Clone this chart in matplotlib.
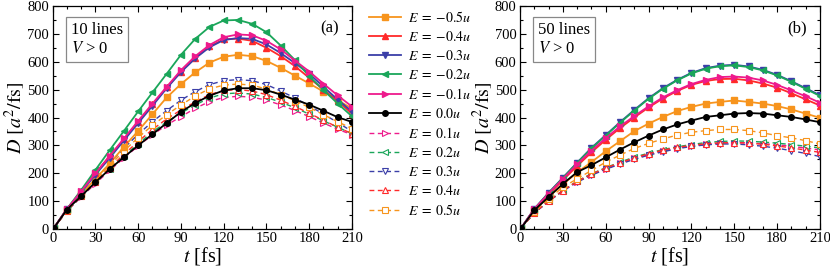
import matplotlib
matplotlib.use("Agg")
import matplotlib.pyplot as plt
import numpy as np
from matplotlib.ticker import MultipleLocator

plt.rcParams['font.family'] = ['Liberation Serif', 'DejaVu Serif']
plt.rcParams['mathtext.fontset'] = 'stix'

t = [1, 10, 20, 30, 40, 50, 60, 70, 80, 90, 100, 110, 120, 130, 140, 150, 160, 170, 180, 190, 200, 210]

energies = [-0.5, -0.4, -0.3, -0.2, -0.1, 0.0, 0.1, 0.2, 0.3, 0.4, 0.5]
colors = ['#f7941d', '#ff2a2a', '#3b3fa8', '#1aa65a', '#ee1a8c', '#000000',
          '#ee1a8c', '#1aa65a', '#3b3fa8', '#ff2a2a', '#f7941d']
markers = ['s', '^', 'v', '<', '>', 'o', '>', '<', 'v', '^', 's']

# panel (a): 10 lines
a_m05 = [5, 70, 125, 180, 235, 295, 352, 412, 472, 520, 562, 597, 618, 625, 620, 603, 578, 550, 522, 493, 462, 432]
a_m04 = [5, 72, 135, 200, 262, 322, 385, 447, 508, 565, 615, 655, 680, 683, 675, 650, 620, 584, 542, 500, 458, 414]
a_m03 = [5, 72, 132, 195, 255, 318, 380, 442, 505, 563, 612, 652, 678, 685, 682, 662, 631, 595, 557, 510, 464, 421]
a_m02 = [5, 72, 140, 212, 283, 352, 422, 490, 557, 625, 682, 725, 748, 750, 736, 706, 658, 606, 548, 498, 450, 404]
a_m01 = [5, 72, 135, 200, 262, 325, 388, 450, 510, 570, 620, 660, 688, 698, 695, 675, 644, 604, 565, 521, 479, 439]
a_p00 = [5, 70, 118, 168, 215, 258, 300, 340, 380, 420, 452, 478, 497, 505, 505, 498, 482, 464, 446, 424, 401, 384]
a_p01 = [5, 64, 115, 163, 210, 255, 298, 338, 373, 403, 433, 457, 472, 476, 473, 462, 445, 425, 403, 380, 358, 338]
a_p02 = [5, 65, 117, 167, 215, 262, 306, 348, 385, 416, 445, 470, 485, 488, 484, 472, 455, 435, 412, 388, 365, 342]
a_p03 = [5, 68, 125, 180, 235, 290, 340, 385, 425, 462, 493, 518, 532, 536, 532, 518, 495, 470, 442, 412, 382, 350]
a_p04 = [5, 66, 119, 170, 220, 268, 314, 357, 395, 427, 456, 482, 497, 500, 495, 482, 462, 440, 415, 390, 365, 342]
a_p05 = [5, 67, 122, 175, 228, 280, 328, 372, 410, 445, 477, 503, 516, 520, 516, 502, 482, 460, 436, 410, 385, 360]

# panel (b): 50 lines
b_m05 = [5, 68, 115, 160, 203, 240, 279, 315, 351, 378, 402, 423, 438, 450, 456, 461, 456, 450, 441, 429, 414, 399]
b_m04 = [5, 70, 123, 175, 226, 275, 320, 362, 400, 436, 468, 495, 517, 531, 538, 539, 533, 522, 507, 487, 465, 443]
b_m03 = [5, 72, 130, 184, 238, 291, 337, 383, 427, 469, 505, 535, 560, 577, 586, 589, 583, 571, 553, 530, 505, 480]
b_m02 = [5, 72, 129, 183, 237, 289, 335, 381, 425, 467, 503, 533, 558, 575, 584, 587, 581, 569, 551, 528, 503, 477]
b_m01 = [5, 72, 127, 180, 232, 281, 326, 368, 405, 440, 472, 498, 520, 535, 545, 547, 543, 533, 517, 497, 476, 453]
b_p00 = [5, 67, 115, 162, 204, 229, 257, 285, 311, 335, 357, 375, 389, 402, 408, 414, 416, 414, 408, 402, 393, 383]
b_p01 = [5, 58, 100, 138, 170, 195, 216, 236, 253, 267, 280, 290, 298, 304, 308, 310, 309, 306, 302, 297, 290, 284]
b_p02 = [5, 58, 100, 138, 172, 198, 220, 240, 258, 272, 285, 295, 303, 310, 314, 316, 315, 312, 308, 303, 297, 291]
b_p03 = [5, 57, 99, 136, 168, 193, 214, 233, 250, 265, 277, 288, 296, 302, 305, 305, 302, 297, 290, 281, 271, 260]
b_p04 = [5, 58, 100, 138, 171, 197, 219, 238, 255, 270, 283, 293, 300, 306, 309, 310, 308, 304, 298, 291, 283, 275]
b_p05 = [5, 62, 108, 150, 180, 210, 240, 265, 289, 307, 323, 337, 347, 353, 357, 357, 353, 345, 335, 327, 317, 305]

series_a = [a_m05, a_m04, a_m03, a_m02, a_m01, a_p00, a_p01, a_p02, a_p03, a_p04, a_p05]
series_b = [b_m05, b_m04, b_m03, b_m02, b_m01, b_p00, b_p01, b_p02, b_p03, b_p04, b_p05]


def label_for(e):
    if e < 0:
        return r'$E\;=\;{-}%.1fu$' % abs(e)
    return r'$E\;=\;%.1fu$' % e


def draw(ax, series, nlines, tag):
    for i, ys in enumerate(series):
        e = energies[i]
        if e <= 0:
            ax.plot(t, ys, color=colors[i], marker=markers[i], ms=4, lw=1.3,
                    label=label_for(e), zorder=3)
        else:
            ax.plot(t, ys, color=colors[i], marker=markers[i], ms=4.5, lw=1.0,
                    mfc='white', mew=0.8, ls=(0, (3.5, 2.5)), label=label_for(e), zorder=2)
    ax.set_xlim(0, 210)
    ax.set_ylim(0, 800)
    ax.xaxis.set_major_locator(MultipleLocator(30))
    ax.xaxis.set_minor_locator(MultipleLocator(10))
    ax.yaxis.set_major_locator(MultipleLocator(100))
    ax.yaxis.set_minor_locator(MultipleLocator(50))
    ax.tick_params(which='both', direction='in', top=True, right=True, labelsize=10.5)
    ax.tick_params(which='major', length=4, width=0.8, pad=2.5)
    ax.tick_params(which='minor', length=2.5, width=0.8)
    for sp in ax.spines.values():
        sp.set_linewidth(0.9)
    ax.set_xlabel(r'$t$ [fs]', fontsize=14.5, labelpad=0)
    ax.set_ylabel(r'$D\ [a^2/\mathrm{fs}]$', fontsize=14.5, labelpad=0)
    ax.text(0.06, 0.93, '%d lines\n$V$ > 0' % nlines, transform=ax.transAxes,
            fontsize=12, va='top', ha='left', linespacing=1.3,
            bbox=dict(boxstyle='square,pad=0.3', fc='white', ec='#888888', lw=0.9))
    ax.text(0.955, 0.9, tag, transform=ax.transAxes, fontsize=12,
            ha='right', va='center')


fig = plt.figure(figsize=(8.3, 2.72), dpi=100)
ax1 = fig.add_axes([0.0635, 0.158, 0.3606, 0.820])
ax2 = fig.add_axes([0.6265, 0.158, 0.3614, 0.820])
draw(ax1, series_a, 10, '(a)')
draw(ax2, series_b, 50, '(b)')

handles, labels = ax1.get_legend_handles_labels()
fig.legend(handles, labels, loc='upper left', bbox_to_anchor=(0.438, 0.985),
           frameon=False, fontsize=10, handlelength=2.3, handletextpad=0.5,
           labelspacing=0.36, borderaxespad=0)

fig.savefig('out.png', dpi=100)
